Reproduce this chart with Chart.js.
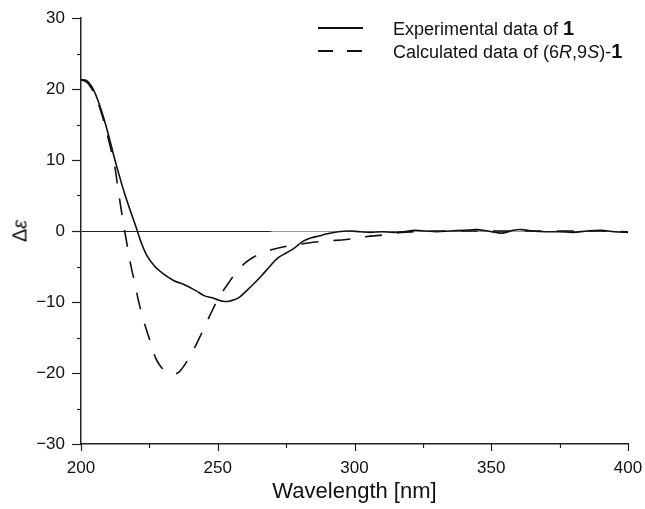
<!DOCTYPE html>
<html>
<head>
<meta charset="utf-8">
<script src="https://cdn.jsdelivr.net/npm/chart.js@4"></script>
<style>
  html, body { margin: 0; padding: 0; background: #fff; }
  #wrap { position: relative; width: 645px; height: 509px; font-family: "Liberation Sans", Arial, sans-serif; color: #111; }
  #c { position: absolute; left: 0; top: 0; }
  .leg { position: absolute; left: 0; top: 0; font-size: 18px; white-space: nowrap; }
  .row { position: absolute; left: 318px; height: 20px; }
  .sw { position: absolute; left: 0; top: 9px; width: 45px; height: 0; border-top: 2px solid #111; }
  .txt { position: absolute; left: 75px; top: 0; line-height: 20px; }
  #ylab { position: absolute; left: 20px; top: 231px; transform: translate(-50%, -50%) rotate(-90deg); font-size: 20px; white-space: nowrap; }
</style>
</head>
<body>
<div id="wrap">
  <canvas id="c" width="645" height="509"></canvas>
  <div class="leg">
    <div class="row" style="top:18px;"><div class="sw"></div><div class="txt">Experimental data of <b style="font-size:20px">1</b></div></div>
    <div class="row" style="top:41px;"><div class="sw" style="width:15px;"></div><div class="sw" style="left:29px;width:15px;"></div><div class="txt">Calculated data of (6<i>R</i>,9<i>S</i>)-<b style="font-size:20px">1</b></div></div>
  </div>
  <div id="ylab">Δ<i>ε</i></div>
</div>
<script>
// ---- data ----
const expWavelength = [200,202,204,206,208,210,212,214,216,218,220,222,224,227,230,234,238,242,245,248,250,252,254,256,258,260,263,266,269,272,275,278,281,284,287,290,294,298,302,306,310,314,318,322,326,330,335,340,345,350,354,358,361,365,370,375,380,385,390,395,400];
const expValues = [21.3,21.2,20.3,18.6,16.3,13.6,10.6,7.8,5.2,2.9,0.7,-1.6,-3.4,-5.0,-6.0,-7.0,-7.6,-8.4,-9.1,-9.4,-9.7,-9.9,-9.9,-9.7,-9.3,-8.6,-7.5,-6.3,-5.0,-3.8,-3.1,-2.4,-1.5,-1.0,-0.7,-0.4,-0.1,0.0,-0.1,-0.2,-0.1,-0.2,-0.1,0.1,0.0,-0.1,0.0,0.1,0.2,-0.1,-0.3,0.1,0.2,0.0,-0.1,-0.1,-0.2,0.0,0.1,-0.1,-0.2];
const calcWavelength = [200,202,204,206,208,210,211,212.4,213.5,214.5,215.7,216.8,218.2,219.7,221,222.8,225,227.3,229,231,233.5,236,238.5,240.5,243,246,248,250,252,254,256,258,260,263,266,270,276,283,290,297,304,312,317,322,330,340,350,360,370,380,390,400];
const calcValues = [21.3,21.0,20.0,18.3,15.9,13.0,11.4,9.0,6.0,3.5,0.6,-1.8,-4.8,-7.4,-9.8,-12.5,-15.2,-17.9,-19.0,-19.8,-20.2,-19.8,-18.5,-17.2,-15.3,-12.8,-11.2,-9.6,-8.4,-7.3,-6.2,-5.3,-4.5,-3.7,-3.1,-2.6,-2.1,-1.7,-1.4,-1.2,-0.8,-0.5,-0.2,-0.1,0.0,0.0,0.0,0.0,0.0,0.0,0.0,-0.1];
const xTickLabels = [200,250,300,350,400];
const yTickLabels = [-30,-20,-10,0,10,20,30];

const toPts = (xs, ys) => xs.map((x, i) => ({x: x, y: ys[i]}));
const FONT = '"Liberation Sans", Arial, sans-serif';
const fmtNum = v => v < 0 ? '\u2212' + Math.abs(v) : String(v);
const noPad = s => { s.paddingLeft = 0; s.paddingRight = 0; s.paddingTop = 0; s.paddingBottom = 0; };

const tickMarks = {
  id: 'tickMarks',
  afterDraw(chart) {
    const ctx = chart.ctx;
    ctx.save();
    ctx.strokeStyle = '#222';
    ctx.lineWidth = 1.2;
    const xs = chart.scales.x, ys = chart.scales.y;
    xs.ticks.forEach(t => {
      const p = Math.round(xs.getPixelForValue(t.value)) + 0.5;
      const len = xTickLabels.includes(t.value) ? 7 : 4;
      ctx.beginPath(); ctx.moveTo(p, xs.top); ctx.lineTo(p, xs.top + len); ctx.stroke();
    });
    ys.ticks.forEach(t => {
      const p = Math.round(ys.getPixelForValue(t.value)) + 0.5;
      const len = yTickLabels.includes(t.value) ? 9 : 4;
      ctx.beginPath(); ctx.moveTo(ys.right, p); ctx.lineTo(ys.right - len, p); ctx.stroke();
    });
    ctx.restore();
  }
};

new Chart(document.getElementById('c'), {
  type: 'scatter',
  data: {
    datasets: [
      { label: 'Experimental data of 1', data: toPts(expWavelength, expValues), showLine: true, borderColor: '#111', borderWidth: 1.6, pointRadius: 0, tension: 0.35, fill: false },
      { label: 'Calculated data of (6R,9S)-1', data: toPts(calcWavelength, calcValues), showLine: true, borderColor: '#111', borderWidth: 1.6, borderDash: [17, 15], pointRadius: 0, tension: 0.35, fill: false }
    ]
  },
  options: {
    responsive: false,
    animation: false,
    events: [],
    layout: { padding: { left: 0, top: 18, right: 17, bottom: 0 } },
    plugins: { legend: { display: false }, tooltip: { enabled: false } },
    scales: {
      x: {
        type: 'linear', min: 200, max: 400,
        afterFit: s => { s.height = 65; noPad(s); },
        ticks: { stepSize: 25, autoSkip: false, maxRotation: 0, padding: 14, color: '#111', font: { family: FONT, size: 17 },
          callback: v => xTickLabels.includes(v) ? String(v) : '' },
        grid: { drawOnChartArea: false, drawTicks: false },
        border: { display: true, color: '#222', width: 1.5 },
        title: { display: true, text: 'Wavelength [nm]', color: '#111', font: { family: FONT, size: 22 }, padding: { top: 2, bottom: 4 } }
      },
      y: {
        min: -30, max: 30,
        afterFit: s => { s.width = 81; noPad(s); },
        ticks: { stepSize: 5, autoSkip: false, padding: 16, color: '#111', font: { family: FONT, size: 17 },
          callback: v => yTickLabels.includes(v) ? fmtNum(v) : '' },
        grid: { drawTicks: false, drawOnChartArea: true, lineWidth: 1,
          color: c => {
            if (!(c.tick && c.tick.value === 0)) return 'rgba(0,0,0,0)';
            const ca = c.chart.chartArea;
            if (!ca) return '#333';
            const g = c.chart.ctx.createLinearGradient(ca.left, 0, ca.right, 0);
            g.addColorStop(0, '#222'); g.addColorStop(0.345, '#222');
            g.addColorStop(0.35, '#999'); g.addColorStop(1, '#999');
            return g;
          } },
        border: { display: true, color: '#222', width: 1.5 }
      }
    }
  },
  plugins: [tickMarks]
});
</script>
</body>
</html>
